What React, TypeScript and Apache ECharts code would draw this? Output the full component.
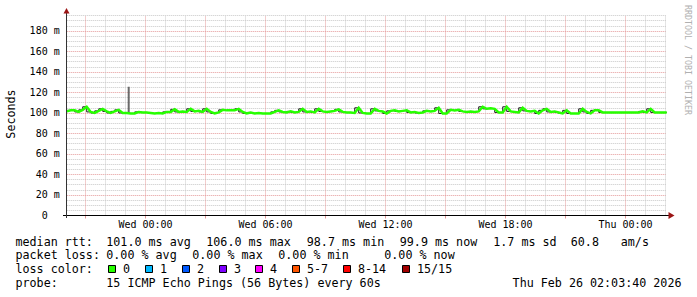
import React, { useEffect, useRef } from 'react';
import * as echarts from 'echarts';

// ---- data ----
// time axis in hours relative to Wed 00:00; window Tue 20:03:40 -> Thu 02:03:40
const startHour = -3.9389;
const stepHours = 0.2;
const medianRtt = [
  101.5, 102.5, 102.5, 101, 103, 106, 101, 100, 102, 104,
  101.5, 100, 101.5, 103, 100, 100, 99.5, 99.5, 101, 100.5,
  100.5, 100, 99.5, 100, 99.5, 101, 101, 103.5, 101, 101.5,
  101, 104, 101.5, 102, 101, 104, 101, 99.5, 100.5, 103,
  102.5, 102.5, 102.5, 104, 101, 99.5, 100.5, 99.5, 100, 99.5,
  99.5, 99.5, 101, 102.5, 101, 100.5, 101.5, 100.5, 101, 104,
  101, 101.5, 100.5, 104, 101.5, 101, 101.5, 102, 103.5, 101,
  100.5, 100.5, 100, 105, 100, 99.5, 99.5, 104, 102, 101.5,
  99.5, 102, 102.5, 101.5, 102, 102.5, 100.5, 101, 100, 100.5,
  102, 101.5, 102, 105, 99.5, 99.5, 103, 102.5, 103, 101.5,
  101, 101.5, 101, 101.5, 106, 104, 104.5, 104, 100.5, 100.5,
  106, 101.5, 101, 100.5, 105, 102, 101.5, 102, 99.5, 102.5,
  104, 101, 101.5, 100.5, 99.5, 102.5, 99.5, 99.5, 99.5, 104,
  101, 99.5, 102.5, 102.5, 100.5, 100.5, 100.5, 100.5, 100.5, 100.5,
  100.5, 100.5, 100.5, 100.5, 101.5, 100.5, 104, 100.5, 100.5, 100.5, 100.5,
];
const smokeSpikeHour = -0.84;
const smokeSpikeRange = [100, 125.5];

const xLabelHours = [0, 6, 12, 18, 24];
const xLabelTexts = ['Wed 00:00', 'Wed 06:00', 'Wed 12:00', 'Wed 18:00', 'Thu 00:00'];
const yMax = 195;

const rttTitle = 'median rtt:';
const rttStats = ['101.0 ms avg', '106.0 ms max', '98.7 ms min', '99.9 ms now', '1.7 ms sd', '60.8', 'am/s'];
const lossTitle = 'packet loss:';
const lossStats = ['0.00 % avg', '0.00 % max', '0.00 % min', '0.00 % now'];
const lossColorTitle = 'loss color:';
const lossLabels = ['0', '1', '2', '3', '4', '5-7', '8-14', '15/15'];
const lossColors = ['#26ff00', '#00b8ff', '#0059ff', '#7e00ff', '#ff00ff', '#ff5500', '#ff0000', '#a10000'];
const probeTitle = 'probe:';
const probeText = '15 ICMP Echo Pings (56 Bytes) every 60s';
const dateText = 'Thu Feb 26 02:03:40 2026';
const watermark = 'RRDTOOL / TOBI OETIKER';
const yTitle = 'Seconds';

// ---- layout (pixels) ----
const rttX = [106.3, 206.3, 306.8, 399.8, 493.3, 570.8, 620.8];
const lossX = [106.3, 192.3, 278.3, 384.3];
const boxX = [108.5, 145.5, 182.5, 219.5, 255.5, 292.5, 343.5, 402.5];
const rowY = [241.7, 255, 269.3, 283.3];

const MONO = '"DejaVu Sans Mono", monospace';
const MAJOR = '#e59a9a';
const MINOR = '#c8c8c8';

export default function App() {
  const ref = useRef<HTMLDivElement>(null);
  useEffect(() => {
    if (!ref.current) return;
    const chart = echarts.init(ref.current, undefined, { renderer: 'svg' });
    const pts = medianRtt.map((v, i) => [startHour + i * stepHours, v]);
    const endHour = startHour + (medianRtt.length - 1) * stepHours;
    const gridHours: number[] = [];
    for (let h = Math.ceil(startHour); h <= endHour; h++) gridHours.push(h);
    const majorHours = gridHours.filter((h) => h % 3 === 0);

    const txt = (text: string, x: number, y: number, extra: any = {}) => ({
      type: 'text',
      x,
      y,
      silent: true,
      z: 10,
      style: {
        text,
        fill: '#000',
        fontFamily: MONO,
        fontSize: 11.7,
        align: 'left',
        verticalAlign: 'middle',
        ...extra,
      },
    });

    const graphics: any[] = [];
    graphics.push({ ...txt(yTitle, 11, 114, { align: 'center' }), rotation: Math.PI / 2 });
    graphics.push({
      ...txt(watermark, 688, 60, { align: 'center', fontSize: 8.3, fill: '#b0b0b0' }),
      rotation: -Math.PI / 2,
    });
    // axis lines + arrows
    graphics.push({ type: 'line', silent: true, z: 9, shape: { x1: 63, y1: 215.5, x2: 669, y2: 215.5 }, style: { stroke: '#000', lineWidth: 1 } });
    graphics.push({ type: 'line', silent: true, z: 9, shape: { x1: 66.5, y1: 218, x2: 66.5, y2: 13 }, style: { stroke: '#333', lineWidth: 1 } });
    graphics.push({ type: 'polygon', silent: true, z: 9, shape: { points: [[63.5, 13.5], [69.5, 13.5], [66.5, 8]] }, style: { fill: '#9b1515' } });
    graphics.push({ type: 'polygon', silent: true, z: 9, shape: { points: [[668.5, 212], [668.5, 219], [674.5, 215.5]] }, style: { fill: '#9b1515' } });

    graphics.push(txt(rttTitle, 15.5, rowY[0]));
    rttStats.forEach((s, i) => graphics.push(txt(s, rttX[i], rowY[0])));
    graphics.push(txt(lossTitle, 15.5, rowY[1]));
    lossStats.forEach((s, i) => graphics.push(txt(s, lossX[i], rowY[1])));
    graphics.push(txt(lossColorTitle, 15.5, rowY[2]));
    lossLabels.forEach((s, i) => {
      graphics.push({
        type: 'rect',
        silent: true,
        z: 10,
        shape: { x: boxX[i], y: 265.5, width: 7, height: 7 },
        style: { fill: lossColors[i], stroke: '#000', lineWidth: 1 },
      });
      graphics.push(txt(s, boxX[i] + 14.5, rowY[2]));
    });
    graphics.push(txt(probeTitle, 15.5, rowY[3]));
    graphics.push(txt(probeText, 106.3, rowY[3]));
    graphics.push(txt(dateText, 512.6, rowY[3]));

    chart.setOption({
      animation: false,
      backgroundColor: '#ffffff',
      grid: { left: 66.72, top: 15.5, width: 600, height: 200, containLabel: false },
      xAxis: {
        type: 'value',
        min: startHour,
        max: endHour,
        axisLine: { show: false },
        splitLine: { show: false },
        axisTick: { show: true, customValues: majorHours, length: 3, lineStyle: { color: MAJOR } },
        axisLabel: {
          customValues: xLabelHours,
          formatter: (v: number) => {
            const i = xLabelHours.indexOf(Math.round(v));
            return i >= 0 ? xLabelTexts[i] : '';
          },
          margin: 4,
          fontFamily: MONO,
          fontSize: 10,
          color: '#000',
        },
      },
      yAxis: [
        {
          type: 'value',
          min: 0,
          max: yMax,
          interval: 20,
          position: 'left',
          axisLine: { show: false },
          axisTick: { show: false },
          splitLine: { show: false },
          axisLabel: {
            formatter: (v: number) => (v % 20 === 0 ? (v === 0 ? '{z|0}' : `${v} m`) : ''),
            margin: 7,
            fontFamily: MONO,
            fontSize: 10,
            color: '#000',
            rich: { z: { padding: [0, 12, 0, 0], fontFamily: MONO, fontSize: 10, color: '#000' } },
          },
        },
        {
          type: 'value',
          min: 0,
          max: yMax,
          interval: 5,
          position: 'left',
          axisLine: { show: false },
          axisTick: { show: false },
          axisLabel: { show: false },
          splitLine: { show: true, lineStyle: { color: [MAJOR, MINOR, MINOR, MINOR], type: [1, 1], width: 1 } },
        },
      ],
      series: [
        {
          type: 'line',
          data: [[startHour, -50]],
          showSymbol: false,
          silent: true,
          z: 1,
          lineStyle: { width: 0 },
          markLine: {
            silent: true,
            z: 1,
            symbol: ['none', 'none'],
            label: { show: false },
            emphasis: { disabled: true },
            data: gridHours.map((h) => ({
              xAxis: h,
              lineStyle: { color: h % 3 === 0 ? MAJOR : MINOR, type: [1, 1], width: 1 },
            })),
          },
        },
        {
          type: 'line',
          data: [[smokeSpikeHour, smokeSpikeRange[0]], [smokeSpikeHour, smokeSpikeRange[1]]],
          showSymbol: false,
          silent: true,
          z: 3,
          lineStyle: { width: 2, color: '#6a6a6a', cap: 'butt' },
        },
        {
          type: 'line',
          data: pts,
          step: 'start',
          showSymbol: false,
          silent: true,
          z: 3,
          lineStyle: { color: '#1a1a1a', width: 1, cap: 'butt', join: 'miter' },
        },
        {
          type: 'line',
          data: pts,
          showSymbol: false,
          silent: true,
          z: 4,
          lineStyle: { color: '#26ff00', width: 2.5, cap: 'butt', join: 'miter' },
        },
      ],
      graphic: graphics,
    });
    return () => chart.dispose();
  }, []);
  return (
    <div
      ref={ref}
      style={{ position: 'fixed', left: 0, top: 0, width: 697, height: 297, background: '#fff' }}
    />
  );
}
